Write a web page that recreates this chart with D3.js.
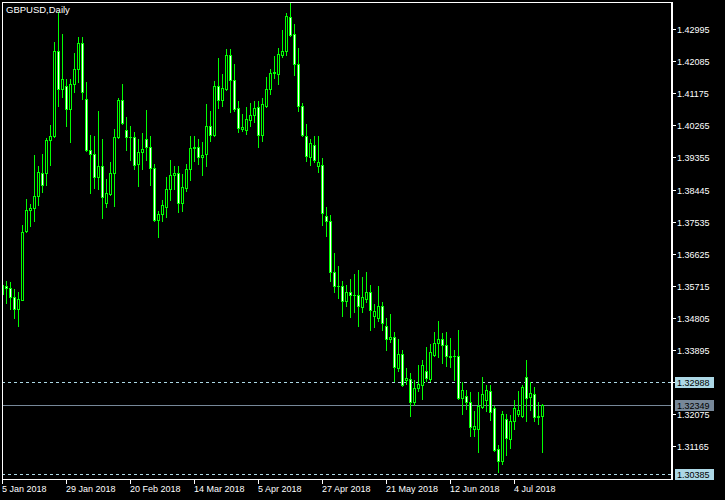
<!DOCTYPE html>
<html><head><meta charset="utf-8">
<script src="https://cdn.jsdelivr.net/npm/d3@7"></script>
<style>
html,body{margin:0;padding:0;background:#000;}
svg{display:block;}
text{font-family:"Liberation Sans",Arial,sans-serif;font-size:9px;}
</style>
</head><body>
<svg id="c" width="725" height="500"></svg>
<script>
const symbolTitle = "GBPUSD,Daily";
const opens = [1.35732,1.35704,1.35657,1.35402,1.35061,1.35326,1.37263,1.37859,1.37925,1.38265,
1.38917,1.38917,1.39853,1.39966,1.42376,1.41298,1.41383,1.40731,1.41440,1.41865,
1.42612,1.41015,1.39560,1.39446,1.38795,1.39125,1.38058,1.38332,1.38917,1.39938,
1.40996,1.40146,1.39938,1.39938,1.39163,1.39513,1.39891,1.39655,1.39059,1.37576,
1.37755,1.37954,1.38464,1.38851,1.38917,1.38067,1.38492,1.39031,1.39617,1.39655,
1.39362,1.39446,1.40249,1.39985,1.41383,1.40977,1.41308,1.42272,1.41554,1.40760,
1.40155,1.40127,1.40429,1.40552,1.40788,1.39985,1.40807,1.41298,1.41752,1.41724,
1.42253,1.42366,1.43340,1.42858,1.42007,1.40826,1.39975,1.39371,1.39720,1.39125,
1.39153,1.37707,1.37566,1.36110,1.35713,1.35704,1.35279,1.35543,1.35468,1.35468,
1.35118,1.35345,1.35543,1.34853,1.34806,1.35156,1.34589,1.34211,1.34277,1.33389,
1.33795,1.33058,1.33077,1.32425,1.32822,1.32917,1.33314,1.33087,1.33767,1.34098,
1.34211,1.34051,1.33739,1.33739,1.33739,1.32539,1.32605,1.32425,1.31660,1.31660,
1.32284,1.32473,1.32747,1.32255,1.31093,1.30743,1.31943,1.31385,1.31877,1.32085,
1.32037,1.33134,1.32557,1.32652,1.32028,1.32018];
const highs = [1.35760,1.35865,1.35827,1.35628,1.35553,1.37452,1.38180,1.38048,1.39437,1.39125,
1.39465,1.39919,1.40287,1.42640,1.43463,1.42867,1.41582,1.41582,1.42328,1.42782,
1.42782,1.41506,1.40004,1.39956,1.40685,1.39891,1.38757,1.39239,1.40174,1.41053,
1.41450,1.40505,1.40250,1.40089,1.39891,1.40061,1.40713,1.39976,1.39173,1.37850,
1.38152,1.38795,1.39295,1.39125,1.39106,1.38899,1.39173,1.39957,1.39976,1.39891,
1.39796,1.40883,1.40684,1.41516,1.42177,1.41733,1.42442,1.42442,1.42017,1.40968,
1.40590,1.40779,1.40892,1.40968,1.40968,1.41043,1.41639,1.41875,1.42243,1.42461,
1.42980,1.43453,1.43746,1.43141,1.42461,1.40901,1.40316,1.39881,1.39975,1.39975,
1.39342,1.37944,1.37736,1.36649,1.36290,1.35865,1.35751,1.35921,1.36063,1.36176,
1.35959,1.36101,1.35732,1.35203,1.35704,1.35269,1.34806,1.34929,1.34409,1.34220,
1.33890,1.33389,1.33247,1.33058,1.33484,1.33625,1.33985,1.34079,1.34410,1.34731,
1.34381,1.34410,1.34240,1.33909,1.34476,1.32983,1.32775,1.32709,1.32180,1.32699,
1.33134,1.32917,1.32917,1.32302,1.31216,1.32161,1.32094,1.32066,1.32491,1.32746,
1.32897,1.33625,1.32992,1.32850,1.32425,1.32378];
const lows = [1.35460,1.35222,1.35061,1.34797,1.34570,1.35307,1.37235,1.37405,1.37547,1.38019,
1.38369,1.38567,1.39134,1.39947,1.40807,1.41062,1.40240,1.39786,1.41204,1.41487,
1.41015,1.39531,1.38350,1.38492,1.38464,1.37632,1.37944,1.38303,1.37972,1.39919,
1.40307,1.39560,1.39295,1.39031,1.38539,1.39031,1.39295,1.38568,1.37547,1.37094,
1.37547,1.37670,1.38143,1.38464,1.37802,1.37850,1.38398,1.38728,1.39248,1.39182,
1.38870,1.39106,1.39815,1.39956,1.40750,1.40826,1.41279,1.40637,1.40684,1.40089,
1.40117,1.40013,1.40240,1.40363,1.39645,1.39815,1.40779,1.41166,1.41601,1.41431,
1.42196,1.42272,1.42791,1.41705,1.40665,1.39975,1.39248,1.39153,1.39219,1.38936,
1.37452,1.37121,1.35865,1.35534,1.35373,1.34853,1.35137,1.34825,1.34967,1.34570,
1.34986,1.35269,1.34475,1.34542,1.34712,1.34475,1.33890,1.34116,1.33030,1.33313,
1.32888,1.32945,1.32019,1.32350,1.32747,1.32520,1.33011,1.33030,1.33739,1.33692,
1.33531,1.33436,1.33418,1.33058,1.32510,1.32095,1.32236,1.31471,1.31452,1.30998,
1.32255,1.32180,1.31906,1.31027,1.30441,1.30668,1.30913,1.31121,1.31669,1.32018,
1.32000,1.31877,1.32207,1.31877,1.31801,1.30998];
const closes = [1.35488,1.35647,1.35402,1.35061,1.35345,1.37244,1.37859,1.37925,1.38265,1.38945,
1.38567,1.39853,1.39966,1.42376,1.41298,1.41582,1.40731,1.41440,1.41865,1.42612,
1.41213,1.39560,1.39446,1.38804,1.39125,1.38228,1.38350,1.38917,1.39938,1.40996,
1.40335,1.39938,1.39928,1.39154,1.39513,1.39607,1.39655,1.39059,1.37576,1.37765,
1.38020,1.38464,1.38870,1.38917,1.38067,1.38521,1.39031,1.39626,1.39655,1.39362,
1.39437,1.40249,1.39985,1.41383,1.40977,1.41327,1.42272,1.41544,1.40741,1.40183,
1.40231,1.40457,1.40571,1.40769,1.40004,1.40873,1.41298,1.41752,1.41771,1.42291,
1.42376,1.43368,1.42839,1.42007,1.40807,1.39985,1.39389,1.39767,1.39276,1.39238,
1.37783,1.37547,1.36101,1.35704,1.35705,1.35279,1.35543,1.35449,1.35460,1.35137,
1.35402,1.35543,1.35024,1.35014,1.35156,1.34664,1.34211,1.34277,1.33408,1.33795,
1.32916,1.33115,1.32425,1.32822,1.32936,1.33484,1.33106,1.33852,1.34098,1.34211,
1.34051,1.33720,1.33701,1.33730,1.32539,1.32775,1.32416,1.31707,1.31735,1.32321,
1.32652,1.32775,1.32132,1.31074,1.30743,1.32085,1.31404,1.31896,1.32255,1.32207,
1.32850,1.32538,1.32680,1.31990,1.31990,1.32349];

const dateTickIndex = [0,16,32,48,64,80,96,112,128];
const dateTickLabels = ["5 Jan 2018","29 Jan 2018","20 Feb 2018","14 Mar 2018","5 Apr 2018",
  "27 Apr 2018","21 May 2018","12 Jun 2018","4 Jul 2018"];
const priceTicks = [1.42995,1.42085,1.41175,1.40265,1.39355,1.38445,1.37535,1.36625,
  1.35715,1.34805,1.33895,1.32985,1.32075,1.31165];
const dashedLevels = [1.32988, 1.30385];
const bidLevel = 1.32349;

const svg = d3.select("#c");
const W = 725, H = 500;
const GREEN = "#00ff00", LBLUE = "#add8e6", GRAY = "#778899";

svg.append("rect").attr("width", W).attr("height", H).attr("fill", "#000");

const n = opens.length;
const x = d3.scaleLinear().domain([0, n - 1]).range([2, 2 + 4 * (n - 1)]);
const y = d3.scaleLinear().domain([1.30385, 1.42995]).range([474, 29]);
const yr = p => Math.round(y(p));

svg.append("clipPath").attr("id", "plot")
  .append("rect").attr("x", 2).attr("y", 2).attr("width", 670).attr("height", 478);

const plot = svg.append("g").attr("clip-path", "url(#plot)");

plot.selectAll("line.lvl").data(dashedLevels).join("line")
  .attr("x1", 2).attr("x2", 671)
  .attr("y1", d => yr(d) + 0.5).attr("y2", d => yr(d) + 0.5)
  .attr("stroke", LBLUE).attr("stroke-width", 1).attr("stroke-dasharray", "3,3");
plot.append("line")
  .attr("x1", 2).attr("x2", 671)
  .attr("y1", yr(bidLevel) + 0.5).attr("y2", yr(bidLevel) + 0.5)
  .attr("stroke", GRAY).attr("stroke-width", 1);

const idx = d3.range(n);
const cg = plot.append("g");
cg.selectAll("rect.wick").data(idx).join("rect")
  .attr("x", i => x(i))
  .attr("y", i => yr(highs[i]))
  .attr("width", 1)
  .attr("height", i => yr(lows[i]) - yr(highs[i]) + 1)
  .attr("fill", GREEN);

idx.forEach(i => {
  const top = yr(Math.max(opens[i], closes[i]));
  const bot = yr(Math.min(opens[i], closes[i]));
  if (bot - top < 1) {
    cg.append("rect").attr("x", x(i) - 1).attr("y", top).attr("width", 3).attr("height", 1)
      .attr("fill", GREEN);
  } else {
    cg.append("rect").attr("x", x(i) - 0.5).attr("y", top + 0.5)
      .attr("width", 2).attr("height", bot - top)
      .attr("fill", closes[i] >= opens[i] ? "#000" : "#fff")
      .attr("stroke", GREEN).attr("stroke-width", 1);
  }
});

const frame = svg.append("g").attr("fill", "#fff");
frame.append("rect").attr("x", 2).attr("y", 2).attr("width", 671).attr("height", 1);
frame.append("rect").attr("x", 2).attr("y", 2).attr("width", 1).attr("height", 478);
frame.append("rect").attr("x", 2).attr("y", 479).attr("width", 671).attr("height", 1);
frame.append("rect").attr("x", 671).attr("y", 2).attr("width", 2).attr("height", 478);

const yAxisScale = y.copy().interpolate(d3.interpolateRound);
const yAxis = svg.append("g").attr("transform", "translate(673,0)")
  .call(d3.axisRight(yAxisScale).tickValues(priceTicks).tickSize(3).tickPadding(1)
    .tickFormat(d3.format(".5f")));
yAxis.select(".domain").remove();
yAxis.selectAll("line").attr("stroke", "#fff");
yAxis.selectAll("text").attr("fill", "#fff").attr("dy", 3.5).attr("x", 4)
  .style("font-family", "'Liberation Sans',Arial,sans-serif").style("font-size", "9px");

const xAxisScale = x.copy().interpolate(d3.interpolateRound);
const xAxis = svg.append("g").attr("transform", "translate(0,480)")
  .call(d3.axisBottom(xAxisScale).tickValues(dateTickIndex).tickSize(4)
    .tickFormat((d, k) => dateTickLabels[k]));
xAxis.select(".domain").remove();
xAxis.selectAll("line").attr("stroke", "#fff");
xAxis.selectAll("text").attr("fill", "#fff").attr("text-anchor", "start")
  .attr("x", -0.5).attr("y", 12).attr("dy", 0)
  .style("font-family", "'Liberation Sans',Arial,sans-serif").style("font-size", "9px");

const boxes = [
  {p: dashedLevels[0], fill: LBLUE},
  {p: bidLevel, fill: GRAY},
  {p: dashedLevels[1], fill: LBLUE}
];
const bg = svg.append("g");
boxes.forEach(b => {
  const r = yr(b.p);
  bg.append("rect").attr("x", 675).attr("y", r - 5).attr("width", 39).attr("height", 11)
    .attr("fill", b.fill);
  bg.append("text").attr("x", 677).attr("y", r + 4).attr("fill", "#000")
    .text(d3.format(".5f")(b.p));
});

svg.append("text").attr("x", 6).attr("y", 13).attr("fill", "#fff")
  .style("font-size", "9.5px").text(symbolTitle);
</script>
</body></html>
